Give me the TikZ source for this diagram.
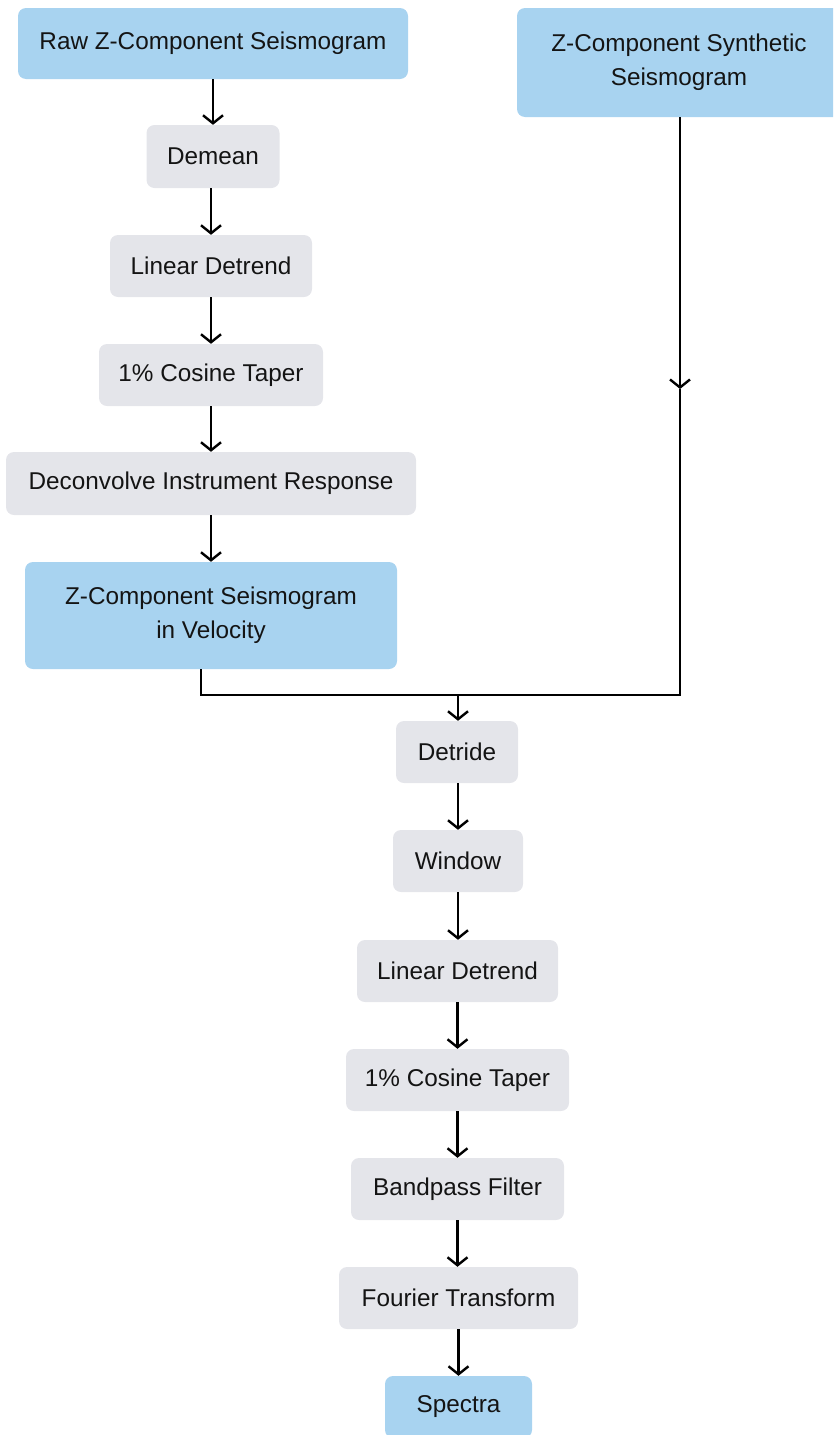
\documentclass[tikz,border=0pt]{standalone}
\usepackage{fontspec}
\setmainfont{Liberation Sans}
\usetikzlibrary{arrows.meta}
\definecolor{inputblue}{HTML}{A8D3F0}
\definecolor{stepgray}{HTML}{E4E5EA}
\definecolor{inktext}{HTML}{141414}
\begin{document}
\begin{tikzpicture}[x=1pt,y=-1pt,
  box/.style={rectangle, rounded corners=8pt, inner sep=0pt, align=center,
    text=inktext, font=\fontsize{24.3}{34}\selectfont},
  databox/.style={box, fill=inputblue},
  stepbox/.style={box, fill=stepgray},
  flow/.style={line width=2.4pt, draw=black, -{Straight Barb[length=8pt,width=20pt,line width=2.4pt]}},
  link/.style={line width=2.4pt, draw=black}]
\path[use as bounding box] (0,0) rectangle (833,1435);
\clip (0,0) rectangle (833,1435);

% left branch: observed record
\node[databox, minimum width=390pt, minimum height=71pt] (raw) at (213,43.5) {Raw Z-Component Seismogram};
\node[stepbox, minimum width=133pt, minimum height=63pt] (demean) at (213,156.5) {Demean};
\node[stepbox, minimum width=202pt, minimum height=62pt] (ldt1) at (211,266) {Linear Detrend};
\node[stepbox, minimum width=224pt, minimum height=62pt] (taper1) at (211,375) {1\% Cosine Taper};
\node[stepbox, minimum width=410pt, minimum height=63pt] (decon) at (211,483.5) {Deconvolve Instrument Response};
\node[databox, minimum width=372pt, minimum height=107pt] (vel) at (211,615.5) {Z-Component Seismogram\\in Velocity};

% right branch: synthetic record
\node[databox, minimum width=324pt, minimum height=109pt] (syn) at (679,62.5) {Z-Component Synthetic\\Seismogram};

% shared processing chain
\node[stepbox, minimum width=122pt, minimum height=62pt] (detride) at (457,752) {Detride};
\node[stepbox, minimum width=130pt, minimum height=62pt] (window) at (458,861) {Window};
\node[stepbox, minimum width=201pt, minimum height=62pt] (ldt2) at (457.5,971) {Linear Detrend};
\node[stepbox, minimum width=223pt, minimum height=62pt] (taper2) at (457.5,1080) {1\% Cosine Taper};
\node[stepbox, minimum width=213pt, minimum height=62pt] (bandpass) at (457.5,1189) {Bandpass Filter};
\node[stepbox, minimum width=239pt, minimum height=62pt] (fourier) at (458.5,1298) {Fourier Transform};
\node[databox, minimum width=147pt, minimum height=62pt] (spectra) at (458.5,1407) {Spectra};

% connectors
\draw[flow] (raw.south -| demean) -- (demean.north);
\draw[flow] (demean.south -| ldt1) -- (ldt1.north);
\draw[flow] (ldt1.south) -- (taper1.north);
\draw[flow] (taper1.south) -- (decon.north);
\draw[flow] (decon.south) -- (vel.north);

\coordinate (vdrop) at (201,695);
\coordinate (merge) at (458,695);
\coordinate (sdrop) at (680,695);
\coordinate (smid) at (680,389);

\draw[link] (vel.south -| vdrop) -- (vdrop) -- (sdrop) -- (smid);
\draw[flow] (syn.south -| smid) -- (smid);
\draw[flow] (merge) -- (merge |- detride.north);

\draw[flow] (detride.south -| window) -- (window.north);
\draw[flow] (window.south) -- (window.south |- ldt2.north);
\draw[flow] (ldt2.south) -- (ldt2.south |- taper2.north);
\draw[flow] (taper2.south) -- (taper2.south |- bandpass.north);
\draw[flow] (bandpass.south) -- (bandpass.south |- fourier.north);
\draw[flow] (fourier.south) -- (fourier.south |- spectra.north);
\end{tikzpicture}
\end{document}
